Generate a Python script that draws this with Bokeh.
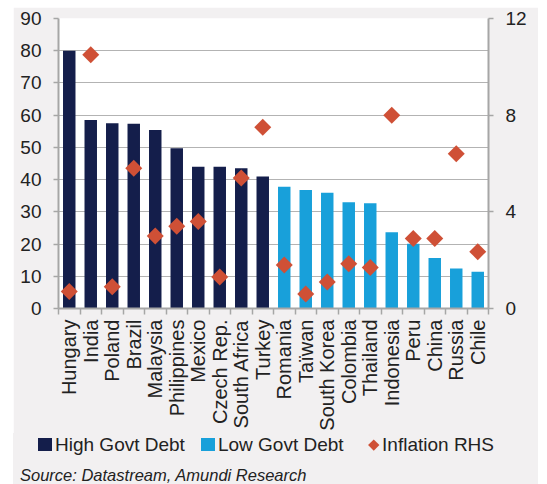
import numpy as np
from bokeh.plotting import figure
from bokeh.layouts import column
from bokeh.models import ColumnDataSource, Range1d, LinearAxis, FixedTicker, Div
from bokeh.embed import file_html
from bokeh.resources import INLINE

# Government debt (% of GDP, left axis) and inflation (%, right axis)
high_debt_countries = ["Hungary", "India", "Poland", "Brazil", "Malaysia",
                       "Philippines", "Mexico", "Czech Rep.", "South Africa", "Turkey"]
high_debt = [80, 58.5, 57.5, 57.3, 55.4, 49.7, 44, 44, 43.5, 41]

low_debt_countries = ["Romania", "Taïwan", "South Korea", "Colombia", "Thailand",
                      "Indonesia", "Peru", "China", "Russia", "Chile"]
low_debt = [37.8, 36.8, 35.9, 33, 32.7, 23.7, 20.1, 15.7, 12.4, 11.4]

countries = high_debt_countries + low_debt_countries
inflation = [0.7, 10.5, 0.9, 5.8, 3.0, 3.4, 3.6, 1.3, 5.4, 7.5,
             1.8, 0.6, 1.1, 1.85, 1.7, 8.0, 2.9, 2.9, 6.4, 2.35]

debt_ticks = [0, 10, 20, 30, 40, 50, 60, 70, 80, 90]
grid_ticks = [10, 20, 30, 40, 50, 60, 70, 80]
inflation_ticks = [0, 4, 8, 12]

series_labels = ["High Govt Debt", "Low Govt Debt", "Inflation RHS"]
source_text = "Source: Datastream, Amundi Research"

NAVY = "#141e4b"
BLUE = "#18a0da"
RED = "#cf5036"
AXIS = "#a6a6a6"
TEXT = "#222222"
PANEL = "#f2f0f1"
FONT = "Liberation Sans"

# one slot per country; marks sit in the middle of their slot
n = len(countries)
slot_center = {c: i + 0.5 for i, c in enumerate(countries)}

p = figure(width=525, height=426, x_range=Range1d(0, n), y_range=Range1d(0, 90),
           output_backend="svg", toolbar_location=None,
           x_axis_location=None, y_axis_location=None,
           min_border_left=45, min_border_right=50,
           min_border_top=11, min_border_bottom=125,
           background_fill_color="white", border_fill_color=PANEL,
           outline_line_color=None, margin=(7, 9, 0, 13))
p.extra_y_ranges = {"infl": Range1d(0, 12)}

# Bars
src_high = ColumnDataSource(dict(x=[slot_center[c] for c in high_debt_countries],
                                 top=high_debt))
src_low = ColumnDataSource(dict(x=[slot_center[c] for c in low_debt_countries],
                                top=low_debt))
p.vbar(x="x", top="top", width=0.58, source=src_high, fill_color=NAVY, line_color=None)
p.vbar(x="x", top="top", width=0.58, source=src_low, fill_color=BLUE, line_color=None)

# Inflation diamonds on the right axis
src_inf = ColumnDataSource(dict(x=[slot_center[c] for c in countries], y=inflation))
p.scatter(x="x", y="y", source=src_inf, y_range_name="infl",
          marker="square", angle=np.pi / 4, size=12,
          fill_color=RED, line_color=None)

# Horizontal dotted grid
p.ygrid.ticker = FixedTicker(ticks=grid_ticks)
p.ygrid.grid_line_color = "#666666"
p.ygrid.grid_line_dash = "1 1"
p.ygrid.grid_line_width = 1
p.xgrid.grid_line_color = None


def style_axis(ax):
    ax.axis_line_color = AXIS
    ax.axis_line_width = 2
    ax.major_tick_line_color = AXIS
    ax.major_tick_line_width = 1.5
    ax.major_tick_in = 0
    ax.major_tick_out = 5
    ax.minor_tick_line_color = None
    ax.major_label_text_font = FONT
    ax.major_label_text_font_size = "19px"
    ax.major_label_text_color = TEXT


left = LinearAxis(ticker=FixedTicker(ticks=debt_ticks))
style_axis(left)
left.major_label_standoff = 12
p.add_layout(left, "left")

right = LinearAxis(y_range_name="infl", ticker=FixedTicker(ticks=inflation_ticks))
style_axis(right)
right.major_label_standoff = 12
p.add_layout(right, "right")

# Country axis: names under the middle of each slot, small ticks between slots
name_axis = LinearAxis(ticker=FixedTicker(ticks=[slot_center[c] for c in countries],
                                          minor_ticks=list(range(n + 1))))
style_axis(name_axis)
name_axis.major_label_overrides = {slot_center[c]: c for c in countries}
name_axis.major_tick_line_color = None
name_axis.major_tick_out = 0
name_axis.minor_tick_line_color = AXIS
name_axis.minor_tick_line_width = 1.5
name_axis.minor_tick_in = 0
name_axis.minor_tick_out = 6
name_axis.major_label_standoff = 5
name_axis.major_label_orientation = np.pi / 2
name_axis.major_label_text_font_size = "20px"
p.add_layout(name_axis, "below")

# Key row and source note under the chart
square = ("<span style='display:inline-block;width:14px;height:13.5px;"
          "background:{color};margin-left:{gap}px'></span>")
diamond = ("<span style='display:inline-block;width:7.5px;height:7.5px;"
           "background:{color};transform:rotate(45deg);vertical-align:3px;"
           "margin-left:{gap}px'></span>")
label = "<span style='margin-left:{gap}px'>{text}</span>"

key_row = (square.format(color=NAVY, gap=0) + label.format(gap=3, text=series_labels[0])
           + square.format(color=BLUE, gap=16) + label.format(gap=3, text=series_labels[1])
           + diamond.format(color=RED, gap=26) + label.format(gap=5, text=series_labels[2]))

html = ("<div style=\"width:525px;height:51px;background:" + PANEL + ";"
        "font-family:'" + FONT + "';color:" + TEXT + ";white-space:nowrap;"
        "overflow:hidden\">"
        "<div style='font-size:19px;line-height:23px;padding-left:25px'>" + key_row + "</div>"
        "<div style='font-size:16.5px;line-height:20px;font-style:italic;"
        "margin-top:9px;padding-left:7px'>" + source_text + "</div>"
        "</div>")

key = Div(text=html, width=525, height=51, margin=(0, 9, 0, 13),
          styles={"background-color": PANEL})

page = column(p, key, spacing=0)
open("out.html", "w").write(file_html(page, INLINE))
